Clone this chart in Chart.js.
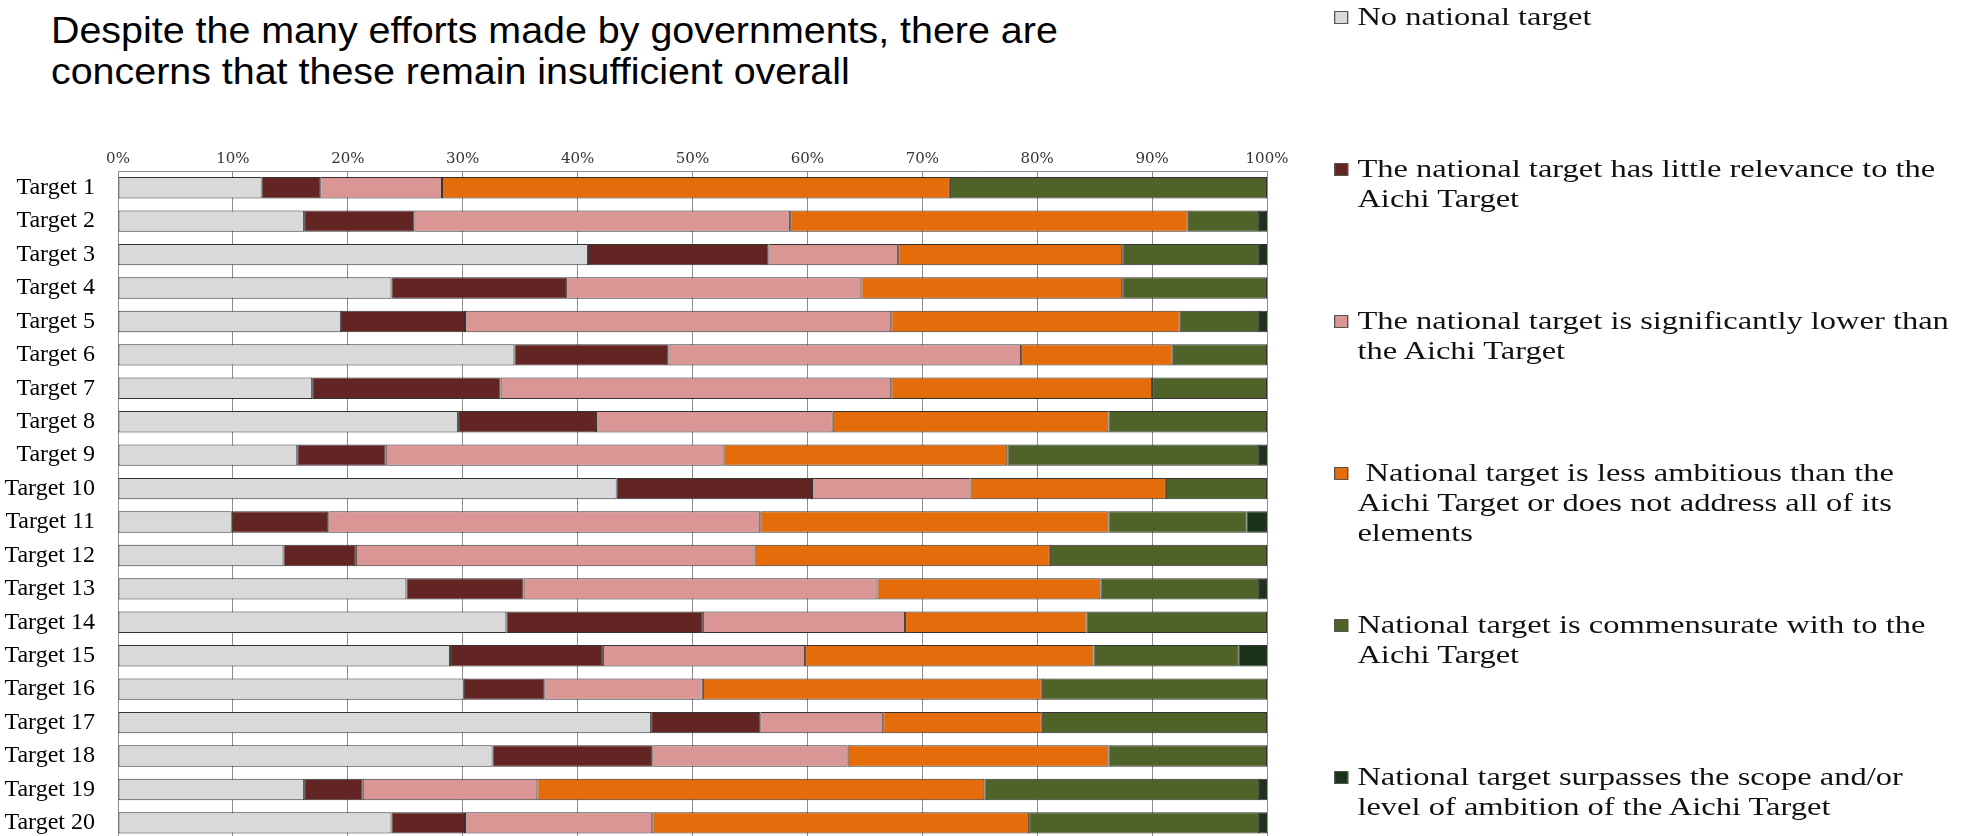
<!DOCTYPE html>
<html lang="en">
  <head>
    <meta charset="UTF-8" />
    <title>National targets compared with the Aichi Targets</title>
    <script src="https://cdn.jsdelivr.net/npm/chart.js"></script>
    <style>
      body {
        margin: 0;
        width: 1969px;
        height: 836px;
        overflow: hidden;
        background: #fff;
      }
      #heading {
        position: absolute;
        left: 51px;
        top: 10px;
        font-family: "Liberation Sans", Arial, sans-serif;
        font-size: 37px;
        line-height: 41px;
        color: #000;
        white-space: nowrap;
        transform: scaleX(1.065);
        transform-origin: 0 0;
      }
      #chartBox {
        position: absolute;
        left: 0;
        top: 120px;
        width: 1297px;
        height: 749px;
      }
      #legend {
        position: absolute;
        left: 1334px;
        top: 0;
        transform: scaleX(1.3);
        transform-origin: 0 0;
        font-family: "Liberation Serif", "Times New Roman", serif;
        font-size: 25px;
        line-height: 30px;
        color: #111;
      }
      .item {
        position: absolute;
        left: 0;
        white-space: pre;
      }
      .swatch {
        position: absolute;
        left: 0;
        top: 9px;
        width: 9px;
        height: 11px;
        border: 1px solid #555;
      }
      .txt {
        position: absolute;
        left: 18px;
        top: 0;
      }
    </style>
  </head>
  <body>
    <div id="heading">
      Despite the many efforts made by governments, there are<br />concerns that these remain insufficient overall
    </div>
    <div id="chartBox"><canvas id="targets"></canvas></div>
    <div id="legend"></div>

    <script>
      const targets = [
        "Target 1", "Target 2", "Target 3", "Target 4", "Target 5",
        "Target 6", "Target 7", "Target 8", "Target 9", "Target 10",
        "Target 11", "Target 12", "Target 13", "Target 14", "Target 15",
        "Target 16", "Target 17", "Target 18", "Target 19", "Target 20",
      ];

      // share of national targets (%) per category
      const noTarget = [12.5, 16.2, 40.9, 23.8, 19.4, 34.5, 16.9, 29.6, 15.6, 43.4,
        9.9, 14.4, 25.1, 33.8, 28.9, 30.1, 46.4, 32.6, 16.2, 23.8];
      const littleRelevance = [5.1, 9.6, 15.7, 15.2, 10.8, 13.4, 16.4, 12.0, 7.7, 17.0,
        8.4, 6.3, 10.2, 17.1, 13.3, 7.0, 9.5, 13.9, 5.1, 6.4];
      const muchLower = [10.6, 32.7, 11.3, 25.7, 37.1, 30.7, 34.0, 20.6, 29.4, 13.8,
        37.6, 34.7, 30.8, 17.6, 17.6, 13.8, 10.7, 17.0, 15.2, 16.3];
      const lessAmbitious = [44.2, 34.6, 19.5, 22.7, 25.1, 13.2, 22.7, 24.0, 24.7, 17.0,
        30.3, 25.7, 19.4, 15.8, 25.1, 29.5, 13.8, 22.7, 38.9, 32.8];
      const commensurate = [27.6, 6.2, 11.9, 12.6, 6.9, 8.2, 10.0, 13.8, 21.9, 8.8,
        12.0, 18.9, 13.8, 15.7, 12.6, 19.6, 19.6, 13.8, 23.9, 20.0];
      const surpasses = [0, 0.7, 0.7, 0, 0.7, 0, 0, 0, 0.7, 0,
        1.8, 0, 0.7, 0, 2.5, 0, 0, 0, 0.7, 0.7];

      const seriesLabels = [
        ["No national target"],
        ["The national target has little relevance to the", "Aichi Target"],
        ["The national target is significantly lower than", "the Aichi Target"],
        [" National target is less ambitious than the", "Aichi Target or does not address all of its", "elements"],
        ["National target is commensurate with to the", "Aichi Target"],
        ["National target surpasses the scope and/or", "level of ambition of the Aichi Target"],
      ];
      const seriesData = [noTarget, littleRelevance, muchLower, lessAmbitious, commensurate, surpasses];
      const seriesColors = ["#d9d9d9", "#632523", "#d99694", "#e46c0a", "#4f6228", "#1b3318"];

      const chart = new Chart(document.getElementById("targets"), {
        type: "bar",
        data: {
          labels: targets,
          datasets: seriesData.map((vals, i) => ({
            label: seriesLabels[i].join(" ").trim(),
            data: vals,
            backgroundColor: seriesColors[i],
            borderColor: "#333",
            borderWidth: 1,
            borderSkipped: false,
            barPercentage: 0.64,
            categoryPercentage: 1.0,
          })),
        },
        options: {
          indexAxis: "y",
          responsive: true,
          maintainAspectRatio: false,
          animation: false,
          layout: { padding: { left: 0, right: 30, top: 0, bottom: 0 } },
          plugins: {
            legend: { display: false },
            tooltip: { enabled: false },
          },
          scales: {
            x: {
              position: "top",
              stacked: true,
              min: 0,
              max: 100,
              ticks: {
                stepSize: 10,
                callback: (v) => v + "%",
                padding: 3,
                maxRotation: 0,
                color: "#333",
                font: { family: "DejaVu Serif", size: 15 },
              },
              grid: { color: "#8c8c8c", drawTicks: false },
              border: { display: true, color: "#8c8c8c" },
              afterFit: (s) => {
                s.height = 51;
              },
            },
            y: {
              stacked: true,
              grid: { display: false },
              border: { display: false },
              ticks: {
                autoSkip: false,
                padding: 15,
                color: "#000",
                font: { family: "Liberation Serif", size: 24 },
              },
              afterFit: (s) => {
                s.width = 118;
              },
            },
          },
        },
      });

      // legend on the right, built from the chart's own datasets
      const legend = document.getElementById("legend");
      chart.data.datasets.forEach((ds, i) => {
        const item = document.createElement("div");
        item.className = "item";
        item.style.top = 2 + i * 152 + "px";
        const sw = document.createElement("div");
        sw.className = "swatch";
        sw.style.background = ds.backgroundColor;
        const txt = document.createElement("div");
        txt.className = "txt";
        txt.textContent = seriesLabels[i].join("\n");
        item.appendChild(sw);
        item.appendChild(txt);
        legend.appendChild(item);
      });
    </script>
  </body>
</html>
